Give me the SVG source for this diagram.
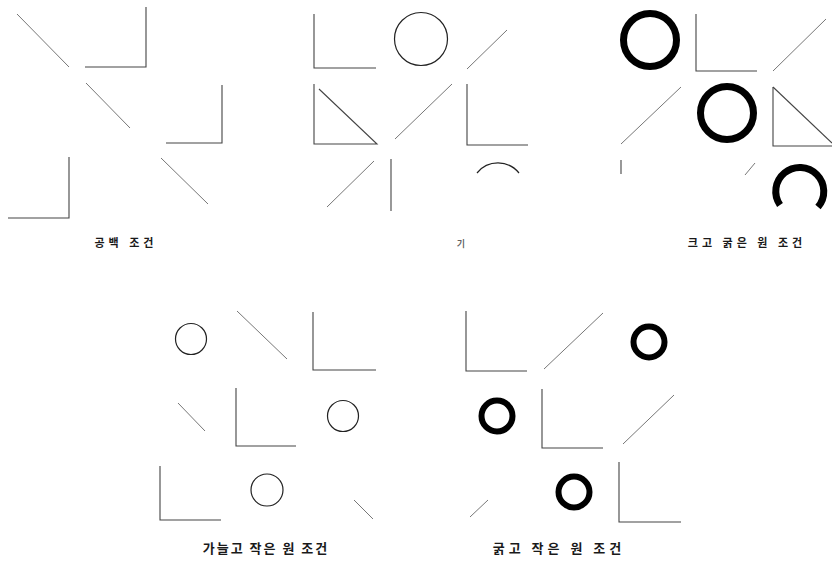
<svg xmlns="http://www.w3.org/2000/svg" width="832" height="565" viewBox="0 0 832 565">
<style>
.ln{stroke:#444;stroke-width:1.1;fill:none;stroke-linecap:butt}
.dg{stroke:#777;stroke-width:1;fill:none}
.tc{stroke:#222;stroke-width:1.2;fill:none}
.bc{stroke:#000;stroke-width:7;fill:none}
.sc{stroke:#000;stroke-width:6;fill:none}
.lb{font-family:"Noto Sans CJK KR","Noto Sans",sans-serif;fill:#1a1a1a;text-anchor:middle;font-weight:bold}
</style>
<rect width="832" height="565" fill="#fff"/>
<g id="panel-blank">
  <g id="p1-diag1"><line class="dg" x1="17" y1="14" x2="69" y2="67"/></g>
  <g id="p1-L1"><polyline class="ln" points="146,7 146,67 85,67"/></g>
  <g id="p1-diag2"><line class="dg" x1="86" y1="83" x2="130" y2="128"/></g>
  <g id="p1-L2"><polyline class="ln" points="222,85 222,143 166,143"/></g>
  <g id="p1-diag3"><line class="dg" x1="161" y1="158" x2="208" y2="204"/></g>
  <g id="p1-L3"><polyline class="ln" points="69,157 69,218 8,218"/></g>
  <g id="p1-label"><text class="lb" x="126" y="247" font-size="11" letter-spacing="4">공백 조건</text></g>
</g>
<g id="panel-basic">
  <g id="p2-L1"><polyline class="ln" points="314,14 314,68 376,68"/></g>
  <g id="p2-circle"><circle class="tc" cx="421" cy="39" r="26.5"/></g>
  <g id="p2-diag1"><line class="dg" x1="467" y1="69" x2="507" y2="30"/></g>
  <g id="p2-tri"><polyline class="ln" points="314,84 314,144 377,144 319,89"/></g>
  <g id="p2-diag2"><line class="dg" x1="395" y1="139" x2="452" y2="84"/></g>
  <g id="p2-L2"><polyline class="ln" points="467,84 467,145 528,145"/></g>
  <g id="p2-diag3"><line class="dg" x1="327" y1="207" x2="374" y2="161"/></g>
  <g id="p2-vert"><line class="ln" x1="391" y1="159" x2="391" y2="211"/></g>
  <g id="p2-arc"><path class="tc" d="M477,173 A27,27 0 0 1 519,173"/></g>
  <g id="p2-label"><text class="lb" x="461" y="247" font-size="9" fill-opacity="0.7">기</text></g>
</g>
<g id="panel-big-thick">
  <g id="p3-circle1"><circle class="bc" cx="650" cy="40" r="26.5"/></g>
  <g id="p3-L1"><polyline class="ln" points="696,14 696,71 757,71"/></g>
  <g id="p3-diag1"><line class="dg" x1="773" y1="71" x2="826" y2="19"/></g>
  <g id="p3-diag2"><line class="dg" x1="621" y1="144" x2="681" y2="87"/></g>
  <g id="p3-circle2"><circle class="bc" cx="727" cy="113" r="26.5"/></g>
  <g id="p3-tri"><polyline class="ln" points="773,87 773,146 832,146"/><line class="ln" x1="773" y1="87" x2="832" y2="143"/></g>
  <g id="p3-vert"><line class="ln" x1="621" y1="160" x2="621" y2="174"/></g>
  <g id="p3-diag3"><line class="dg" x1="745" y1="175" x2="755" y2="163"/></g>
  <g id="p3-arc"><path class="bc" d="M780,205 A24,24 0 1 1 818,207"/></g>
  <g id="p3-label"><text class="lb" x="747" y="247" font-size="11" letter-spacing="4">크고 굵은 원 조건</text></g>
</g>
<g id="panel-thin-small">
  <g id="p4-circle1"><circle class="tc" cx="191" cy="339" r="15.5"/></g>
  <g id="p4-diag1"><line class="dg" x1="237" y1="311" x2="287" y2="359"/></g>
  <g id="p4-L1"><polyline class="ln" points="313,312 313,370 376,370"/></g>
  <g id="p4-diag2"><line class="dg" x1="178" y1="403" x2="205" y2="431"/></g>
  <g id="p4-L2"><polyline class="ln" points="236,388 236,446 296,446"/></g>
  <g id="p4-circle2"><circle class="tc" cx="343" cy="416" r="15.5"/></g>
  <g id="p4-L3"><polyline class="ln" points="160,466 160,520 221,520"/></g>
  <g id="p4-circle3"><circle class="tc" cx="267" cy="490" r="16"/></g>
  <g id="p4-diag3"><line class="dg" x1="354" y1="500" x2="373" y2="519"/></g>
  <g id="p4-label"><text class="lb" x="266" y="553" font-size="13" letter-spacing="2">가늘고 작은 원 조건</text></g>
</g>
<g id="panel-thick-small">
  <g id="p5-L1"><polyline class="ln" points="466,311 466,371 527,371"/></g>
  <g id="p5-diag1"><line class="dg" x1="544" y1="369" x2="603" y2="313"/></g>
  <g id="p5-circle1"><circle class="sc" cx="649" cy="342" r="15.5"/></g>
  <g id="p5-circle2"><circle class="sc" cx="497" cy="416" r="15.5"/></g>
  <g id="p5-L2"><polyline class="ln" points="542,389 542,448 603,448"/></g>
  <g id="p5-diag2"><line class="dg" x1="623" y1="444" x2="674" y2="395"/></g>
  <g id="p5-circle3"><circle class="sc" cx="574" cy="492" r="15.5"/></g>
  <g id="p5-L3"><polyline class="ln" points="619,462 619,522 681,522"/></g>
  <g id="p5-diag3"><line class="dg" x1="470" y1="517" x2="488" y2="500"/></g>
  <g id="p5-label"><text class="lb" x="559" y="553" font-size="13" letter-spacing="4">굵고 작은 원 조건</text></g>
</g>
</svg>
